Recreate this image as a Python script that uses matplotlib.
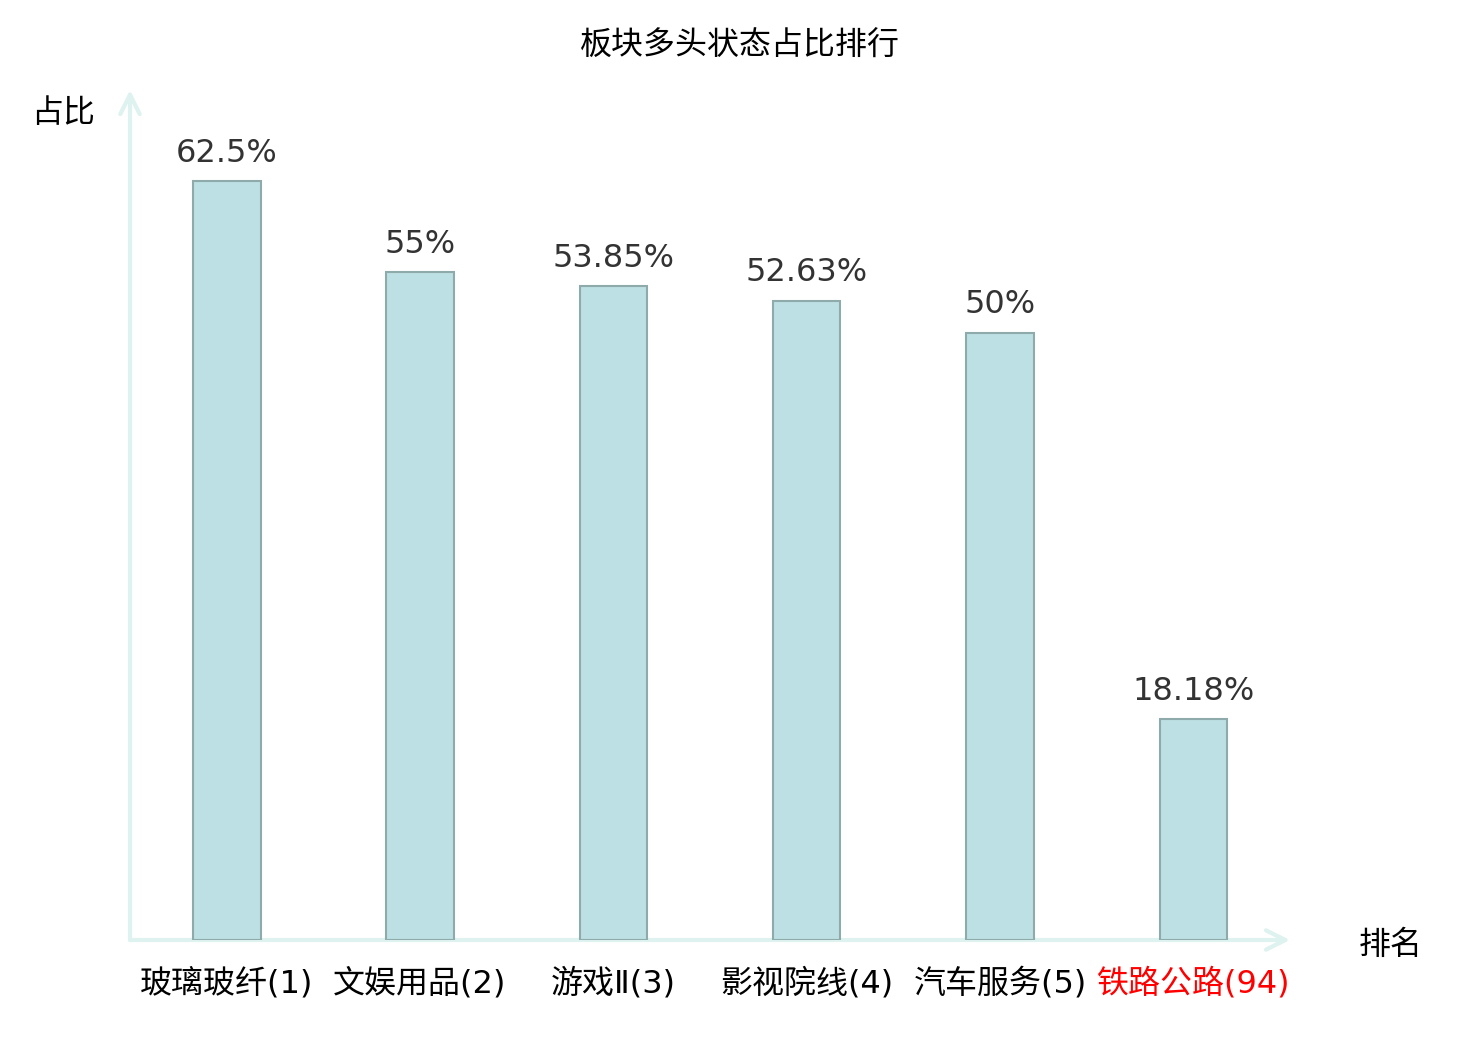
import matplotlib
matplotlib.use('Agg')
import matplotlib.pyplot as plt
import numpy as np

plt.rcParams['font.family'] = ['Noto Sans CJK SC', 'DejaVu Sans']

# data
sectors = ['玻璃玻纤(1)', '文娱用品(2)', '游戏Ⅱ(3)', '影视院线(4)', '汽车服务(5)', '铁路公路(94)']
ratios = [62.5, 55, 53.85, 52.63, 50, 18.18]
ratio_labels = ['62.5%', '55%', '53.85%', '52.63%', '50%', '18.18%']

bar_color = '#bce0e3'
edge_color = '#8faaab'
axis_color = '#def2ef'

fig = plt.figure(figsize=(14.8, 10.4), dpi=100)
ax = fig.add_axes([130 / 1480, 100 / 1040, 1160 / 1480, 850 / 1040])

x = np.arange(len(sectors))
bars = ax.bar(x, ratios, width=0.35, color=bar_color, edgecolor=edge_color, linewidth=1.5)

for xi, v, lab in zip(x, ratios, ratio_labels):
    ax.annotate(lab, xy=(xi, v), xytext=(0, 9), textcoords='offset points',
                ha='center', va='bottom', fontsize=23, color='#333333',
                family='DejaVu Sans')

ax.set_xlim(-0.5, 5.5)
ax.set_ylim(0, 70)
for s in ax.spines.values():
    s.set_visible(False)
ax.set_yticks([])
ax.set_xticks(x)
ax.set_xticklabels(sectors, fontsize=23, family=['DejaVu Sans', 'Noto Sans CJK SC'])
ax.tick_params(axis='x', length=0, pad=20)
ax.get_xticklabels()[-1].set_color('#ff0000')

# axis arrows
arrow = dict(arrowstyle='->', color=axis_color, lw=3, mutation_scale=35,
             shrinkA=0, shrinkB=0)
ax.annotate('', xy=(1, 0), xytext=(0, 0), xycoords='axes fraction',
            arrowprops=arrow, annotation_clip=False, zorder=0)
ax.annotate('', xy=(0, 1), xytext=(0, 0), xycoords='axes fraction',
            arrowprops=arrow, annotation_clip=False, zorder=0)

fig.text(63 / 1480, 1 - 113 / 1040, '占比', fontsize=23, ha='center', va='center')
fig.text(1391 / 1480, 1 - 945 / 1040, '排名', fontsize=23, ha='center', va='center')
fig.text(740 / 1480, 1 - 46 / 1040, '板块多头状态占比排行', fontsize=23, ha='center', va='center')

fig.savefig('out.png', dpi=100)
